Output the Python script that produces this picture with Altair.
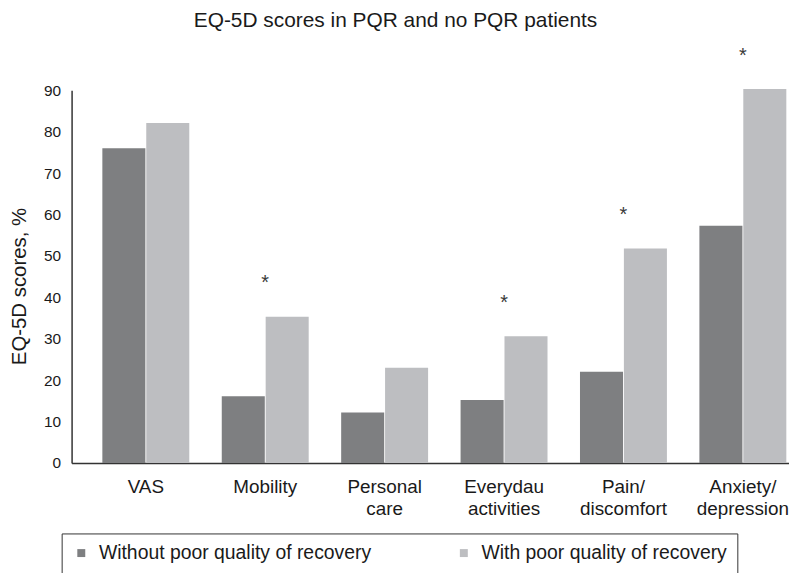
import altair as alt
import pandas as pd

categories = ["VAS", "Mobility", "Personal\ncare", "Everydau\nactivities",
              "Pain/\ndiscomfort", "Anxiety/\ndepression"]
without_pqr = [76.0, 16.1, 12.2, 15.2, 22.0, 57.3]
with_pqr = [82.1, 35.3, 23.0, 30.6, 51.8, 90.3]
significant = [False, True, False, True, True, True]
groups = ["Without poor quality of recovery", "With poor quality of recovery"]
colors = ["#7e7f81", "#bdbec1"]
y_ticks = [0, 10, 20, 30, 40, 50, 60, 70, 80, 90]

rows = []
for c, a, b in zip(categories, without_pqr, with_pqr):
    rows.append({"cat": c, "group": groups[0], "value": a})
    rows.append({"cat": c, "group": groups[1], "value": b})
bars_df = pd.DataFrame(rows)

star_df = pd.DataFrame({
    "cat": [c for c, s in zip(categories, significant) if s],
    "pos": [b + 9 for b, s in zip(with_pqr, significant) if s],
    "label": ["*" for s in significant if s],
})

FONT = "Liberation Sans"
TXT = "#1a1a1a"

x_enc = alt.X(
    "cat:N", sort=categories, title=None,
    scale=alt.Scale(paddingInner=0.272, paddingOuter=0.14, align=0.92),
    axis=alt.Axis(
        labelExpr="split(datum.label, '\\n')", labelAngle=0,
        labelFontSize=19, labelLineHeight=22, labelPadding=15,
        ticks=False, domainColor="#333333", domainWidth=1.5,
        labelColor=TXT, labelFont=FONT,
    ),
)

y_scale = alt.Scale(domain=[0, 90], nice=False, zero=True)

bars = alt.Chart(bars_df).mark_bar().encode(
    x=x_enc,
    xOffset=alt.XOffset("group:N", sort=groups,
                        scale=alt.Scale(paddingInner=0.02)),
    y=alt.Y("value:Q", scale=y_scale, title="EQ-5D scores, %",
            axis=alt.Axis(values=y_ticks, ticks=False, grid=False,
                          labelFontSize=15.5, labelPadding=11,
                          labelColor=TXT, labelFont=FONT,
                          domainColor="#333333", domainWidth=1.5,
                          titleFontSize=20.5, titleFontWeight="normal",
                          titleFont=FONT, titleColor=TXT,
                          titleX=-52, titleY=197, titleBaseline="middle")),
    color=alt.Color("group:N", sort=groups,
                    scale=alt.Scale(domain=groups, range=colors),
                    legend=alt.Legend(
                        title=None, orient="none", legendX=-10, legendY=446,
                        direction="horizontal", columns=2, gridAlign="none",
                        columnPadding=83, symbolType="square", symbolSize=64,
                        symbolStrokeWidth=0, labelFontSize=19.5, labelFont=FONT,
                        labelColor=TXT, labelOffset=8, labelLimit=400,
                        padding=10, strokeColor="#333333",
                        fillColor="white")),
)

stars = alt.Chart(star_df).mark_text(
    fontSize=20, font=FONT, color="#3a3a3a", baseline="middle", dy=4
).encode(
    x=alt.X("cat:N", sort=categories),
    y=alt.Y("pos:Q", scale=y_scale),
    text="label:N",
)

chart = alt.layer(bars, stars).properties(
    width=722, height=375,
    title=alt.TitleParams("EQ-5D scores in PQR and no PQR patients",
                          fontSize=21, fontWeight="normal", font=FONT,
                          color=TXT, anchor="middle", dx=-35, offset=15),
    autosize=alt.AutoSizeParams(type="none"),
    padding={"left": 64, "top": 81, "right": 0, "bottom": 109},
).configure_view(stroke=None)

chart.save("out.html", embed_options={"renderer": "svg", "actions": False})
